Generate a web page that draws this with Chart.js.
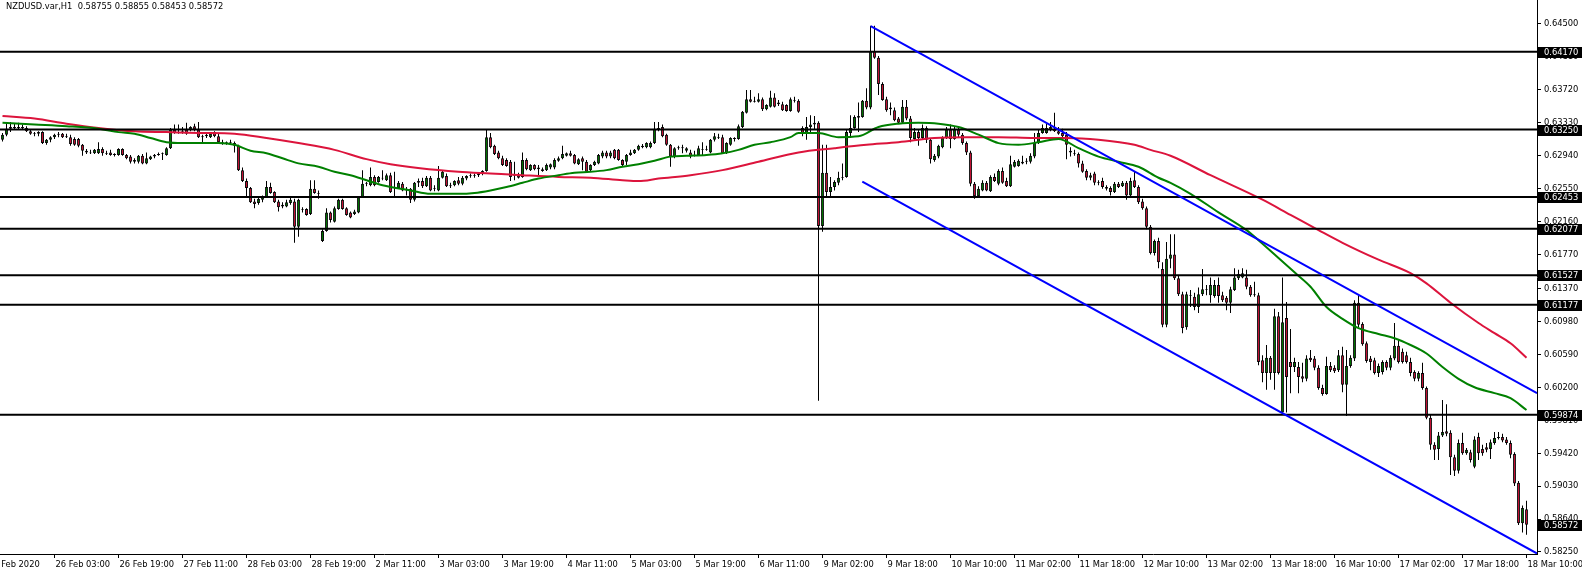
<!DOCTYPE html>
<html>
<head>
<meta charset="utf-8">
<title>NZDUSD.var,H1</title>
<script src="https://cdn.jsdelivr.net/npm/chart.js@4.4.1/dist/chart.umd.min.js"></script>
<style>
  html, body { margin: 0; padding: 0; background: #fff; }
  #wrap { width: 1582px; height: 572px; }
</style>
</head>
<body>
<div id="wrap"><canvas id="chart" width="1582" height="572"></canvas></div>
<script>
// NZDUSD.var H1 bars, 25 Feb 14:00 .. 18 Mar 10:00 (one value per bar)
var symbol = 'NZDUSD.var,H1';

var barOpen = [
  .6313,.6319,.6326,.6328,.6327,.6328,.6327,.6323,.6320,.6320,
  .6322,.6309,.6313,.6316,.6319,.6320,.6316,.6316,.6314,.6314,
  .6307,.6300,.6298,.6297,.6297,.6302,.6297,.6298,.6295,.6295,
  .6302,.6295,.6293,.6287,.6287,.6294,.6285,.6290,.6293,.6295,
  .6296,.6295,.6303,.6325,.6321,.6321,.6325,.6325,.6329,.6325,
  .6316,.6317,.6316,.6322,.6317,.6310,.6308,.6310,.6309,.6306,
  .6277,.6264,.6256,.6240,.6238,.6242,.6245,.6257,.6251,.6240,
  .6236,.6234,.6238,.6240,.6210,.6230,.6231,.6225,.6255,.6250,
  .6193,.6205,.6227,.6216,.6231,.6242,.6232,.6227,.6225,.6227,
  .6245,.6261,.6259,.6269,.6263,.6267,.6265,.6271,.6256,.6256,
  .6261,.6253,.6255,.6242,.6262,.6264,.6258,.6268,.6255,.6253,
  .6268,.6270,.6258,.6259,.6265,.6261,.6267,.6270,.6270,.6271,
  .6273,.6276,.6316,.6306,.6298,.6291,.6289,.6287,.6270,.6271,
  .6269,.6289,.6277,.6283,.6278,.6276,.6277,.6280,.6280,.6288,
  .6291,.6294,.6297,.6295,.6284,.6291,.6287,.6277,.6283,.6285,
  .6293,.6298,.6293,.6301,.6301,.6289,.6287,.6295,.6297,.6301,
  .6306,.6304,.6304,.6309,.6325,.6328,.6319,.6307,.6293,.6303,
  .6304,.6300,.6298,.6295,.6295,.6302,.6302,.6298,.6313,.6316,
  .6316,.6297,.6307,.6314,.6314,.6328,.6345,.6361,.6359,.6358,
  .6361,.6349,.6352,.6363,.6357,.6355,.6354,.6347,.6360,.6359,
  .6327,.6321,.6328,.6331,.6333,.6211,.6274,.6251,.6257,.6262,
  .6268,.6269,.6321,.6327,.6339,.6340,.6359,.6351,.6418,.6410,
  .6379,.6361,.6349,.6348,.6338,.6333,.6352,.6338,.6314,.6322,
  .6315,.6327,.6313,.6289,.6293,.6304,.6315,.6325,.6314,.6325,
  .6319,.6309,.6298,.6261,.6246,.6253,.6262,.6252,.6269,.6261,
  .6276,.6264,.6258,.6281,.6282,.6287,.6287,.6287,.6293,.6309,
  .6321,.6321,.6325,.6326,.6323,.6321,.6319,.6300,.6297,.6296,
  .6285,.6276,.6268,.6273,.6262,.6264,.6257,.6256,.6251,.6261,
  .6258,.6262,.6247,.6265,.6257,.6240,.6232,.6210,.6179,.6193,
  .6160,.6094,.6172,.6177,.6149,.6130,.6091,.6128,.6127,.6115,
  .6130,.6135,.6129,.6128,.6141,.6129,.6126,.6120,.6135,.6149,
  .6150,.6150,.6139,.6130,.6129,.6052,.6037,.6055,.6037,.6104,
  .5990,.6102,.6050,.6044,.6044,.6033,.6030,.6055,.6054,.6043,
  .6019,.6012,.6045,.6043,.6040,.6058,.6023,.6045,.6054,.6120,
  .6095,.6072,.6054,.6052,.6037,.6038,.6050,.6043,.6054,.6069,
  .6062,.6058,.6050,.6038,.6030,.6037,.6019,.5984,.5952,.5947,
  .5963,.5968,.5966,.5937,.5921,.5954,.5942,.5943,.5926,.5961,
  .5947,.5949,.5947,.5954,.5960,.5961,.5958,.5954,.5941,.5907,
  .5859,.58755
];

var barHigh = [
  .6321,.6332,.6334,.6332,.6333,.6331,.6329,.6325,.6322,.6323,
  .6323,.6314,.6317,.6320,.6322,.6321,.6320,.6319,.6316,.6315,
  .6308,.6302,.6301,.6302,.6310,.6304,.6300,.6301,.6297,.6303,
  .6303,.6296,.6295,.6291,.6295,.6296,.6298,.6294,.6296,.6298,
  .6298,.6304,.6327,.6331,.6331,.6328,.6333,.6329,.6332,.6334,
  .6319,.6320,.6322,.6323,.6320,.6313,.6311,.6313,.6311,.6307,
  .6280,.6267,.6257,.6243,.6244,.6247,.6264,.6262,.6252,.6242,
  .6239,.6242,.6244,.6243,.6243,.6233,.6232,.6265,.6265,.6253,
  .6207,.6232,.6228,.6234,.6243,.6243,.6233,.6228,.6230,.6246,
  .6277,.6263,.6280,.6271,.6270,.6277,.6273,.6274,.6275,.6264,
  .6263,.6257,.6256,.6263,.6267,.6268,.6270,.6270,.6259,.6282,
  .6277,.6273,.6262,.6265,.6269,.6270,.6271,.6273,.6273,.6274,
  .6277,.6325,.6321,.6307,.6300,.6294,.6291,.6289,.6287,.6274,
  .6298,.6291,.6284,.6284,.6283,.6280,.6285,.6285,.6291,.6293,
  .6306,.6298,.6300,.6296,.6291,.6293,.6289,.6284,.6288,.6296,
  .6300,.6300,.6300,.6302,.6302,.6290,.6296,.6301,.6302,.6307,
  .6308,.6310,.6311,.6334,.6334,.6331,.6320,.6308,.6304,.6306,
  .6307,.6304,.6301,.6300,.6306,.6310,.6306,.6314,.6321,.6320,
  .6319,.6310,.6316,.6316,.6331,.6347,.6372,.6372,.6364,.6368,
  .6363,.6355,.6371,.6368,.6360,.6358,.6355,.6363,.6364,.6361,
  .6329,.6340,.6342,.6341,.6335,.6307,.6307,.6269,.6265,.6275,
  .6285,.6325,.6342,.6342,.6357,.6360,.6374,.6448,.6448,.6412,
  .6381,.6364,.6357,.6351,.6340,.6360,.6360,.6341,.6327,.6325,
  .6331,.6329,.6315,.6296,.6307,.6317,.6328,.6331,.6329,.6329,
  .6321,.6311,.6300,.6263,.6258,.6265,.6264,.6271,.6273,.6278,
  .6280,.6268,.6294,.6289,.6290,.6294,.6291,.6297,.6321,.6325,
  .6331,.6332,.6334,.6345,.6328,.6326,.6322,.6304,.6301,.6298,
  .6288,.6278,.6274,.6275,.6265,.6268,.6259,.6258,.6263,.6263,
  .6264,.6264,.6268,.6275,.6259,.6243,.6234,.6212,.6195,.6197,
  .6168,.6192,.6201,.6201,.6152,.6133,.6133,.6135,.6132,.6138,
  .6160,.6141,.6150,.6147,.6150,.6133,.6128,.6139,.6161,.6159,
  .6161,.6159,.6141,.6145,.6132,.6058,.6070,.6057,.6113,.6109,
  .6150,.6121,.6089,.6055,.6050,.6049,.6058,.6064,.6057,.6046,
  .6023,.6056,.6050,.6046,.6064,.6068,.6064,.6058,.6123,.6129,
  .6097,.6074,.6057,.6055,.6048,.6052,.6052,.6058,.6096,.6077,
  .6066,.6062,.6055,.6040,.6039,.6049,.6021,.5987,.5955,.5967,
  .6005,.6000,.5969,.5940,.5958,.5966,.5948,.5946,.5962,.5966,
  .5952,.5954,.5958,.5967,.5967,.5965,.5961,.5957,.5943,.5909,
  .5880,.58855
];

var barLow = [
  .6311,.6317,.6322,.6325,.6325,.6325,.6322,.6319,.6317,.6317,
  .6308,.6307,.6310,.6314,.6316,.6315,.6315,.6306,.6306,.6304,
  .6294,.6296,.6296,.6296,.6296,.6294,.6295,.6294,.6293,.6294,
  .6294,.6290,.6285,.6285,.6285,.6284,.6284,.6289,.6291,.6294,
  .6289,.6294,.6302,.6320,.6320,.6320,.6319,.6323,.6323,.6315,
  .6310,.6315,.6315,.6316,.6309,.6307,.6307,.6308,.6298,.6276,
  .6263,.6245,.6238,.6232,.6236,.6239,.6244,.6249,.6238,.6228,
  .6232,.6233,.6236,.6191,.6198,.6227,.6223,.6224,.6249,.6243,
  .6192,.6204,.6215,.6215,.6230,.6230,.6223,.6220,.6224,.6226,
  .6244,.6258,.6258,.6258,.6262,.6265,.6264,.6250,.6244,.6255,
  .6252,.6247,.6238,.6240,.6257,.6256,.6257,.6252,.6252,.6252,
  .6267,.6257,.6256,.6258,.6259,.6259,.6265,.6268,.6268,.6269,
  .6271,.6275,.6303,.6295,.6290,.6282,.6281,.6264,.6265,.6267,
  .6268,.6277,.6276,.6277,.6271,.6275,.6276,.6278,.6278,.6287,
  .6290,.6293,.6293,.6284,.6283,.6277,.6274,.6276,.6282,.6284,
  .6291,.6291,.6291,.6290,.6288,.6282,.6283,.6294,.6296,.6300,
  .6303,.6303,.6303,.6308,.6323,.6316,.6306,.6281,.6291,.6301,
  .6297,.6298,.6291,.6293,.6294,.6295,.6300,.6297,.6311,.6314,
  .6296,.6296,.6306,.6311,.6313,.6327,.6344,.6357,.6357,.6357,
  .6347,.6348,.6351,.6351,.6353,.6347,.6346,.6346,.6357,.6345,
  .6317,.6313,.6321,.6325,.6004,.6204,.6244,.6245,.6253,.6259,
  .6265,.6268,.6316,.6326,.6322,.6339,.6349,.6349,.6409,.6366,
  .6359,.6346,.6342,.6335,.6332,.6332,.6336,.6310,.6313,.6306,
  .6314,.6309,.6285,.6287,.6291,.6303,.6314,.6303,.6313,.6315,
  .6307,.6295,.6258,.6243,.6244,.6252,.6252,.6251,.6263,.6259,
  .6261,.6257,.6257,.6280,.6281,.6284,.6284,.6285,.6291,.6308,
  .6320,.6320,.6323,.6322,.6319,.6316,.6290,.6293,.6294,.6280,
  .6274,.6265,.6265,.6259,.6259,.6255,.6253,.6247,.6250,.6256,
  .6257,.6242,.6246,.6256,.6237,.6230,.6207,.6177,.6176,.6161,
  .6091,.6091,.6161,.6147,.6128,.6084,.6088,.6115,.6111,.6108,
  .6128,.6129,.6120,.6126,.6120,.6121,.6111,.6108,.6134,.6147,
  .6149,.6136,.6127,.6127,.6046,.6026,.6017,.6029,.6017,.6035,
  .5987,.5990,.6013,.6038,.6013,.6026,.6027,.6050,.6040,.6017,
  .6010,.6011,.6038,.6037,.6038,.6014,.5986,.6043,.6051,.6091,
  .6069,.6049,.6040,.6035,.6032,.6035,.6040,.6040,.6052,.6048,
  .6048,.6048,.6033,.6027,.6027,.6017,.5982,.5946,.5934,.5934,
  .5961,.5962,.5916,.5915,.5918,.5940,.5940,.5931,.5924,.5934,
  .5939,.5943,.5935,.5952,.5958,.5955,.5952,.5936,.5903,.5857,
  .5848,.58453
];

var barClose = [
  .6319,.6326,.6328,.6327,.6328,.6327,.6323,.6320,.6321,.6322,
  .6309,.6313,.6316,.6319,.6320,.6316,.6317,.6308,.6307,.6306,
  .6300,.6298,.6297,.6301,.6302,.6297,.6296,.6295,.6296,.6302,
  .6295,.6291,.6287,.6289,.6294,.6285,.6291,.6293,.6295,.6296,
  .6297,.6303,.6325,.6321,.6322,.6323,.6320,.6328,.6325,.6316,
  .6317,.6319,.6320,.6317,.6310,.6308,.6310,.6309,.6306,.6277,
  .6264,.6256,.6239,.6237,.6243,.6246,.6257,.6250,.6239,.6233,
  .6234,.6239,.6242,.6210,.6242,.6231,.6224,.6255,.6250,.6249,
  .6205,.6227,.6218,.6232,.6242,.6231,.6224,.6221,.6228,.6245,
  .6261,.6262,.6269,.6259,.6269,.6268,.6271,.6251,.6257,.6262,
  .6253,.6255,.6242,.6262,.6264,.6258,.6268,.6253,.6256,.6268,
  .6275,.6258,.6259,.6264,.6261,.6268,.6270,.6271,.6271,.6273,
  .6276,.6316,.6304,.6296,.6291,.6283,.6282,.6269,.6271,.6268,
  .6289,.6278,.6283,.6278,.6280,.6278,.6283,.6284,.6289,.6291,
  .6296,.6297,.6294,.6285,.6290,.6287,.6275,.6283,.6287,.6295,
  .6298,.6293,.6298,.6291,.6289,.6283,.6295,.6298,.6301,.6306,
  .6304,.6309,.6309,.6326,.6327,.6317,.6307,.6293,.6303,.6304,
  .6303,.6303,.6293,.6294,.6303,.6301,.6301,.6313,.6317,.6315,
  .6297,.6309,.6315,.6315,.6329,.6346,.6361,.6358,.6358,.6361,
  .6349,.6354,.6363,.6352,.6355,.6348,.6347,.6361,.6359,.6346,
  .6321,.6328,.6331,.6333,.6211,.6274,.6251,.6257,.6263,.6268,
  .6269,.6322,.6327,.6340,.6341,.6359,.6351,.6418,.6410,.6379,
  .6360,.6348,.6351,.6336,.6333,.6352,.6338,.6315,.6322,.6315,
  .6327,.6313,.6290,.6294,.6306,.6315,.6325,.6314,.6325,.6319,
  .6309,.6298,.6261,.6246,.6255,.6262,.6253,.6269,.6264,.6276,
  .6262,.6258,.6284,.6287,.6288,.6285,.6288,.6294,.6309,.6321,
  .6327,.6327,.6328,.6323,.6320,.6317,.6307,.6298,.6296,.6285,
  .6275,.6268,.6271,.6262,.6263,.6257,.6255,.6251,.6261,.6257,
  .6262,.6247,.6264,.6257,.6239,.6232,.6210,.6179,.6193,.6168,
  .6094,.6172,.6177,.6149,.6130,.6090,.6130,.6129,.6115,.6130,
  .6136,.6136,.6141,.6141,.6128,.6123,.6120,.6136,.6150,.6154,
  .6155,.6139,.6129,.6129,.6050,.6037,.6055,.6037,.6104,.6037,
  .6097,.6032,.6044,.6050,.6032,.6030,.6054,.6052,.6043,.6019,
  .6012,.6045,.6040,.6039,.6058,.6023,.6045,.6055,.6120,.6094,
  .6071,.6051,.6050,.6037,.6045,.6050,.6043,.6055,.6069,.6050,
  .6050,.6050,.6037,.6030,.6037,.6019,.5984,.5952,.5946,.5963,
  .5967,.5965,.5937,.5921,.5954,.5942,.5946,.5934,.5958,.5942,
  .5942,.5946,.5955,.5960,.5961,.5957,.5954,.5940,.5906,.5859,
  .5877,.58572
];

// moving averages (bar index, value)
var maFastIdx = [0,8,16,24,29,33,37,41,45,49,54,58,62,66,70,74,79,83,87,91,95,102,107,114,118,122,126,130,134,139,143,147,151,155,159,163,167,171,176,180,184,188,192,197,199,204,209,214,219,224,229,234,239,244,249,254,259,264,269,274,279,284,289,292,297,304,311,314,319,323,327,331,335,339,344,348,352,356,360,364,368,373,377,381];
var maFastVal = [.6333,.6331,.6329,.6326,.6322,.6320,.6315,.6310,.6309,.6309,.6309,.6307,.6300,.6297,.6291,.6285,.6281,.6275,.6271,.6265,.6259,.6253,.6249,.6249,.6250,.6253,.6257,.6262,.6267,.6271,.6274,.6275,.6277,.6281,.6284,.6288,.6293,.6294,.6295,.6297,.6301,.6307,.6310,.6316,.6321,.6321,.6316,.6317,.6328,.6332,.6333,.6332,.6328,.6319,.6309,.6307,.6310,.6314,.6303,.6293,.6287,.6281,.6268,.6262,.6249,.6227,.6206,.6194,.6173,.6156,.6139,.6115,.6101,.6090,.6083,.6078,.6070,.6060,.6044,.6030,.6020,.6013,.6007,.5993];
var maSlowIdx = [0,8,16,24,33,41,49,58,66,74,83,91,97,114,122,130,139,147,155,159,164,172,180,189,199,208,216,224,233,241,249,258,266,274,283,287,292,302,315,322,329,335,344,352,356,362,369,373,377,381];
var maSlowVal = [.6341,.6338,.6332,.6327,.6323,.6322,.6321,.6320,.6315,.6309,.6301,.6290,.6284,.6275,.6273,.6271,.6269,.6268,.6265,.6264,.6267,.6271,.6277,.6287,.6298,.6303,.6307,.6310,.6315,.6316,.6316,.6315,.6315,.6313,.6307,.6301,.6294,.6271,.6242,.6224,.6206,.6191,.6171,.6155,.6143,.6120,.6096,.6084,.6072,.6055];

// horizontal levels and the descending channel
var levels = [0.64170, 0.63250, 0.62453, 0.62077, 0.61527, 0.61177, 0.59874];
var channelTopIdx = [217.05, 383.625];
var channelTopVal = [0.64476, 0.60130];
var channelBotIdx = [214.95, 383.625];
var channelBotVal = [0.62633, 0.58232];

// axes
var yTicks = [0.64500,0.64110,0.63720,0.63330,0.62940,0.62550,0.62160,0.61770,0.61370,0.60980,0.60590,0.60200,0.59810,0.59420,0.59030,0.58640,0.58250];
var xTickIdx = [-3.875,13,29,45,61,77,93,109,125,141,157,173,189,205,221,237,253,269,285,301,317,333,349,365,381];
var xTickLabels = ['25 Feb 2020','26 Feb 03:00','26 Feb 19:00','27 Feb 11:00','28 Feb 03:00','28 Feb 19:00','2 Mar 11:00','3 Mar 03:00','3 Mar 19:00','4 Mar 11:00','5 Mar 03:00','5 Mar 19:00','6 Mar 11:00','9 Mar 02:00','9 Mar 18:00','10 Mar 10:00','11 Mar 02:00','11 Mar 18:00','12 Mar 10:00','13 Mar 02:00','13 Mar 18:00','16 Mar 10:00','17 Mar 02:00','17 Mar 18:00','18 Mar 10:00'];
var xMin = -0.625, xMax = 383.625;
var yMin = 0.58226, yMax = 0.64784;

var bullColor = '#008000';
var bearColor = '#dc143c';
var fontFamily = '"DejaVu Sans Condensed", "Liberation Sans", Arial, sans-serif';
var fontSize = 9.25;

Chart.defaults.font.family = fontFamily;
Chart.defaults.font.size = fontSize;
Chart.defaults.color = '#000';

function pts(xs, ys) {
  return xs.map(function(x, i) { return {x: x, y: ys[i]}; });
}

var lastBar = barClose.length - 1;
var tagValues = levels.concat([barClose[lastBar]]);

var wickData = barClose.map(function(c, i) { return {x: i, y: [barLow[i], barHigh[i]]}; });
var bodyData = barClose.map(function(c, i) { return {x: i, y: [barOpen[i], barClose[i]]}; });

var datasets = [
  {
    type: 'bar', data: wickData, backgroundColor: '#000', borderWidth: 0,
    maxBarThickness: 1, grouped: false, inflateAmount: 0, order: 6
  },
  {
    type: 'bar', data: bodyData,
    backgroundColor: function(ctx) {
      var i = ctx.dataIndex;
      return barClose[i] >= barOpen[i] ? bullColor : bearColor;
    },
    borderColor: '#000', borderWidth: 1, borderSkipped: false,
    maxBarThickness: 3, grouped: false, inflateAmount: 0, order: 5
  },
  {
    type: 'line', data: pts(maSlowIdx, maSlowVal), borderColor: bearColor,
    borderWidth: 2, pointRadius: 0, fill: false, cubicInterpolationMode: 'monotone', order: 4
  },
  {
    type: 'line', data: pts(maFastIdx, maFastVal), borderColor: bullColor,
    borderWidth: 2, pointRadius: 0, fill: false, cubicInterpolationMode: 'monotone', order: 3
  }
];

levels.forEach(function(lv) {
  datasets.push({
    type: 'line', data: pts([xMin, xMax], [lv, lv]), borderColor: '#000',
    borderWidth: 2, pointRadius: 0, fill: false, order: 2
  });
});

[[channelTopIdx, channelTopVal], [channelBotIdx, channelBotVal]].forEach(function(ch) {
  datasets.push({
    type: 'line', data: pts(ch[0], ch[1]), borderColor: '#0000ff',
    borderWidth: 2, pointRadius: 0, fill: false, order: 1
  });
});

// title in the corner and black price tags on the right scale
var mtOverlay = {
  id: 'mtOverlay',
  afterDraw: function(chart) {
    var ctx = chart.ctx;
    var ys = chart.scales.y;
    ctx.save();
    ctx.font = fontSize + 'px ' + fontFamily;
    ctx.textBaseline = 'middle';
    ctx.textAlign = 'left';
    ctx.fillStyle = '#000';
    var ohlc = [barOpen[lastBar], barHigh[lastBar], barLow[lastBar], barClose[lastBar]];
    ctx.fillText(symbol + '  ' + ohlc.map(function(v) { return v.toFixed(5); }).join(' '), 6, 7);

    tagValues.forEach(function(v) {
      var py = Math.round(ys.getPixelForValue(v));
      ctx.fillStyle = '#000';
      ctx.fillRect(ys.left + 1, py - 5, chart.width - ys.left - 1, 11);
      ctx.fillStyle = '#fff';
      ctx.fillText(v.toFixed(5), ys.left + 7, py + 0.5);
    });
    ctx.restore();
  }
};

new Chart(document.getElementById('chart'), {
  type: 'bar',
  data: { datasets: datasets },
  plugins: [mtOverlay],
  options: {
    responsive: false,
    animation: false,
    devicePixelRatio: 1,
    events: [],
    layout: { padding: 0 },
    plugins: { legend: { display: false }, tooltip: { enabled: false } },
    scales: {
      x: {
        type: 'linear',
        min: xMin, max: xMax,
        offset: false,
        position: 'bottom',
        border: { display: true, color: '#000', width: 1 },
        grid: { display: true, offset: false, drawOnChartArea: false, drawTicks: true, tickLength: 4, color: '#000', lineWidth: 1 },
        ticks: {
          autoSkip: false, maxRotation: 0, minRotation: 0, align: 'start',
          padding: 1, labelOffset: 1, color: '#000',
          callback: function(v, i) { return xTickLabels[i]; }
        },
        afterBuildTicks: function(scale) {
          scale.ticks = xTickIdx.map(function(v) { return {value: v}; });
        },
        afterFit: function(scale) {
          scale.height = 18;
          scale.paddingLeft = 0;
          scale.paddingRight = 0;
        }
      },
      y: {
        type: 'linear',
        position: 'right',
        min: yMin, max: yMax,
        border: { display: true, color: '#000', width: 1 },
        grid: { display: true, drawOnChartArea: false, drawTicks: true, tickLength: 4, color: '#000', lineWidth: 1 },
        ticks: {
          autoSkip: false, padding: 3, color: '#000',
          callback: function(v) { return v.toFixed(5); }
        },
        afterBuildTicks: function(scale) {
          scale.ticks = yTicks.map(function(v) { return {value: v}; });
        },
        afterFit: function(scale) {
          scale.width = 45;
          scale.paddingTop = 0;
          scale.paddingBottom = 0;
        }
      }
    }
  }
});
</script>
</body>
</html>
